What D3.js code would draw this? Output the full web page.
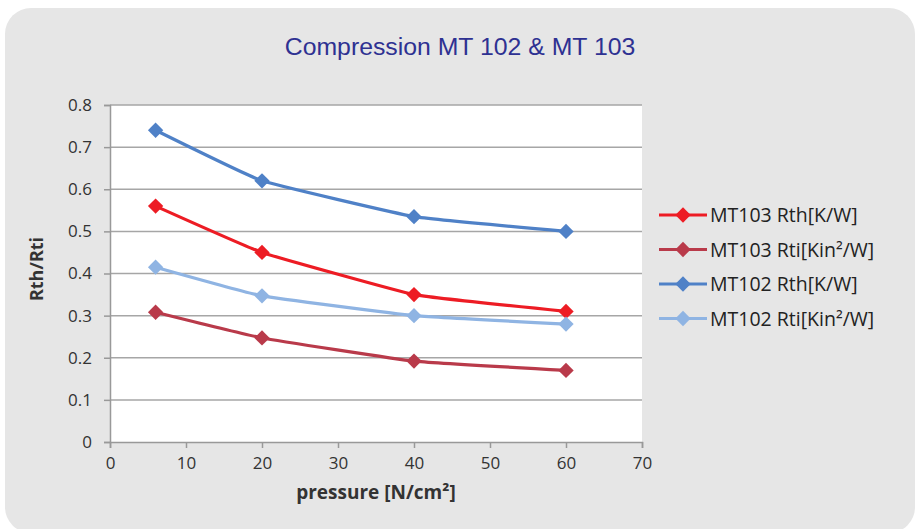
<!DOCTYPE html>
<html lang="en">
<head>
<meta charset="UTF-8">
<title>Compression MT 102 & MT 103</title>
<style>
  body { margin: 0; background: #ffffff; }
  svg { display: block; }
</style>
</head>
<body>
<div id="chart"></div>
<script src="https://cdn.jsdelivr.net/npm/d3@7"></script>
<script>
// data
var pressure = [6, 20, 40, 60];
var mt103Rth = [0.56, 0.45, 0.35, 0.31];
var mt103Rti = [0.308, 0.247, 0.192, 0.17];
var mt102Rth = [0.74, 0.62, 0.535, 0.50];
var mt102Rti = [0.415, 0.347, 0.30, 0.28];
var seriesNames = ["MT103 Rth[K/W]", "MT103 Rti[Kin\u00b2/W]", "MT102 Rth[K/W]", "MT102 Rti[Kin\u00b2/W]"];
var xTicks = [0, 10, 20, 30, 40, 50, 60, 70];
var yTicks = [0, 0.1, 0.2, 0.3, 0.4, 0.5, 0.6, 0.7, 0.8];

var colors = ["#ed1c24", "#b93a4a", "#4f81c7", "#8fb4e3"];
var series = [mt103Rth, mt103Rti, mt102Rth, mt102Rti];

var W = 919, H = 529;
// note: "top" is taken by window.top, so plot edges get their own names
var plotL = 110, plotR = 642, plotT = 105, plotB = 442;
var labelFont = "'Open Sans', 'DejaVu Sans', sans-serif";

var svg = d3.select("#chart").append("svg")
    .attr("width", W)
    .attr("height", H);

// gray card behind everything
svg.append("rect")
    .attr("x", 5).attr("y", 8)
    .attr("width", 910).attr("height", 525)
    .attr("rx", 26).attr("ry", 26)
    .style("fill", "#e6e6e6");

var x = d3.scaleLinear().domain([0, 70]).range([plotL, plotR]);
var y = d3.scaleLinear().domain([0, 0.8]).range([plotB, plotT]);

// plot area
svg.append("rect")
    .attr("x", plotL).attr("y", plotT)
    .attr("width", plotR - plotL).attr("height", plotB - plotT)
    .style("fill", "#ffffff");

// gridlines
svg.append("g").selectAll("line")
    .data(yTicks.slice(1))
    .enter().append("line")
    .attr("x1", plotL).attr("x2", plotR)
    .attr("y1", function (d) { return y(d); })
    .attr("y2", function (d) { return y(d); })
    .style("stroke", "#a6a6a6")
    .style("stroke-width", 1.5);

// y axis
var yAxis = svg.append("g")
    .attr("transform", "translate(" + plotL + ",0)")
    .call(d3.axisLeft(y).tickValues(yTicks).tickSize(6).tickPadding(12)
        .tickFormat(function (d) { return d === 0 ? "0" : d3.format(".1f")(d); }));
yAxis.select(".domain").style("stroke", "#999999").style("stroke-width", 1.5);
yAxis.selectAll(".tick line").style("stroke", "#999999").style("stroke-width", 1.5);
yAxis.selectAll("text")
    .style("font-family", labelFont)
    .style("font-size", "17px")
    .style("fill", "#333333");

// x axis
var xAxis = svg.append("g")
    .attr("transform", "translate(0," + plotB + ")")
    .call(d3.axisBottom(x).tickValues(xTicks).tickSize(6).tickPadding(9));
xAxis.select(".domain").style("stroke", "#999999").style("stroke-width", 1.5);
xAxis.selectAll(".tick line").style("stroke", "#999999").style("stroke-width", 1.5);
xAxis.selectAll("text")
    .style("font-family", labelFont)
    .style("font-size", "17px")
    .style("fill", "#333333");

// title
svg.append("text")
    .text("Compression MT 102 & MT 103")
    .attr("x", 460).attr("y", 55)
    .style("text-anchor", "middle")
    .style("font-family", "'Liberation Sans', Arial, sans-serif")
    .style("font-size", "24.8px")
    .style("fill", "#2e3192");

// axis titles
svg.append("text")
    .text("pressure [N/cm\u00b2]")
    .attr("x", 376).attr("y", 499)
    .style("text-anchor", "middle")
    .style("font-family", labelFont)
    .style("font-weight", "bold")
    .style("font-size", "19px")
    .style("fill", "#333333");

svg.append("text")
    .text("Rth/Rti")
    .attr("transform", "translate(43,269) rotate(-90)")
    .style("text-anchor", "middle")
    .style("font-family", labelFont)
    .style("font-weight", "bold")
    .style("font-size", "18px")
    .style("fill", "#333333");

var line = d3.line()
    .x(function (d) { return x(d[0]); })
    .y(function (d) { return y(d[1]); })
    .curve(d3.curveCardinal.tension(0.7));

var diamond = d3.symbol().type(d3.symbolDiamond2).size(150);

series.forEach(function (vals, i) {
    var pts = d3.zip(pressure, vals);
    svg.append("path")
        .attr("d", line(pts))
        .style("fill", "none")
        .style("stroke", colors[i])
        .style("stroke-width", 3.2);
    svg.append("g").selectAll("path")
        .data(pts)
        .enter().append("path")
        .attr("d", diamond)
        .attr("transform", function (d) { return "translate(" + x(d[0]) + "," + y(d[1]) + ")"; })
        .style("fill", colors[i]);
});

// legend
var legend = svg.append("g").attr("transform", "translate(659,215)");
seriesNames.forEach(function (name, i) {
    var g = legend.append("g").attr("transform", "translate(0," + (i * 34.5) + ")");
    g.append("line")
        .attr("x1", 0).attr("x2", 48)
        .style("stroke", colors[i])
        .style("stroke-width", 3.2);
    g.append("path")
        .attr("d", diamond)
        .attr("transform", "translate(24,0)")
        .style("fill", colors[i]);
    g.append("text")
        .text(name)
        .attr("x", 51).attr("y", 7)
        .style("font-family", labelFont)
        .style("font-size", "19.5px")
        .style("fill", "#222222");
});
</script>
</body>
</html>
